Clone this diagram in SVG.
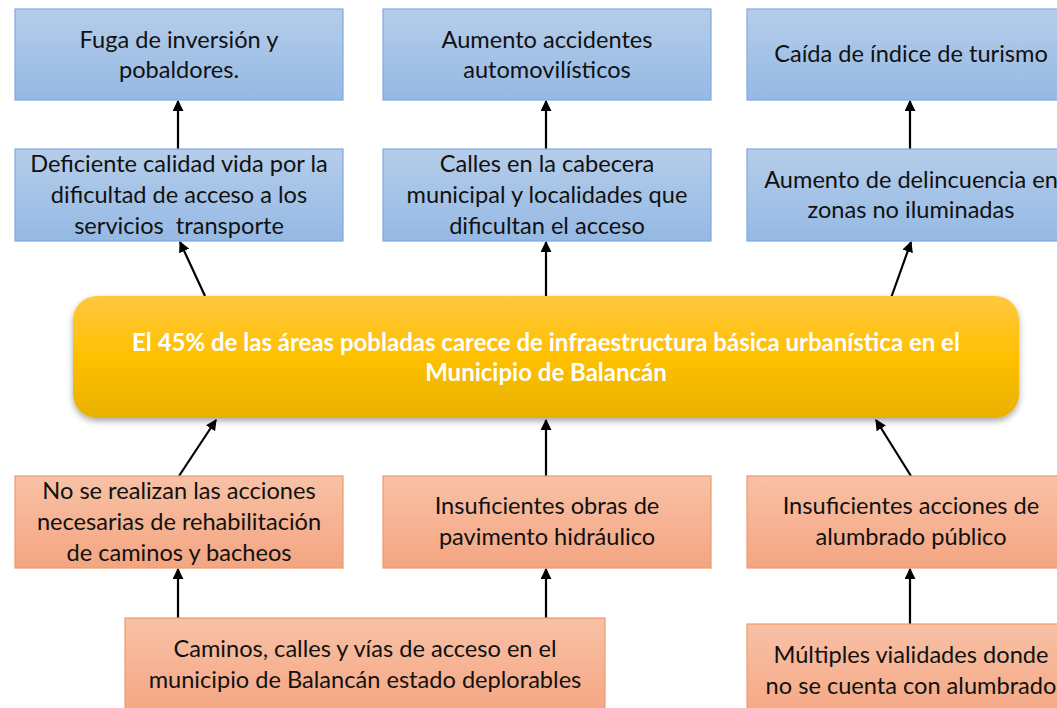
<svg xmlns="http://www.w3.org/2000/svg" width="1057" height="708" viewBox="0 0 1057 708">
<defs>
<linearGradient id="gBlue" x1="0" y1="0" x2="0" y2="1">
<stop offset="0" stop-color="#b5cdea"/>
<stop offset="1" stop-color="#95b9e4"/>
</linearGradient>
<linearGradient id="gOrange" x1="0" y1="0" x2="0" y2="1">
<stop offset="0" stop-color="#f8c1a6"/>
<stop offset="1" stop-color="#f4a581"/>
</linearGradient>
<linearGradient id="gYellow" x1="0" y1="0" x2="0" y2="1">
<stop offset="0" stop-color="#ffc840"/>
<stop offset="0.5" stop-color="#ffc000"/>
<stop offset="1" stop-color="#e8b000"/>
</linearGradient>
<filter id="shadow" x="-5%" y="-20%" width="110%" height="140%">
<feDropShadow dx="0" dy="3" stdDeviation="3" flood-color="#000" flood-opacity="0.35"/>
</filter>
<marker id="arr" viewBox="0 0 10 10" refX="9" refY="5" markerWidth="5" markerHeight="5" orient="auto" markerUnits="strokeWidth">
<path d="M0,0 L10,5 L0,10 z" fill="#000"/>
</marker>
</defs>
<style>
.blue{fill:url(#gBlue);stroke:#7fa9dd;stroke-width:1.2}
.orange{fill:url(#gOrange);stroke:#ee9a6a;stroke-width:1.2}
.t{font-family:Lato,"Liberation Sans",sans-serif;font-size:23.6px;fill:#111;text-anchor:middle;white-space:pre}
.c{font-family:Lato,"Liberation Sans",sans-serif;font-size:24px;font-weight:bold;fill:#fff;text-anchor:middle}
.ln{stroke:#000;stroke-width:2.2;fill:none;marker-end:url(#arr)}
</style>
<rect width="1057" height="708" fill="#fff"/>

<g id="connectors">
<line class="ln" x1="178" y1="149" x2="178" y2="101"/>
<line class="ln" x1="546" y1="149" x2="546" y2="101"/>
<line class="ln" x1="910" y1="149" x2="910" y2="101"/>
<line class="ln" x1="205" y1="296" x2="180" y2="242"/>
<line class="ln" x1="546" y1="296" x2="546" y2="242"/>
<line class="ln" x1="891" y1="298" x2="911" y2="242"/>
<line class="ln" x1="179" y1="476" x2="216" y2="420"/>
<line class="ln" x1="546" y1="476" x2="546" y2="420"/>
<line class="ln" x1="911" y1="476" x2="876" y2="420"/>
<line class="ln" x1="178" y1="618" x2="178" y2="569"/>
<line class="ln" x1="546" y1="618" x2="546" y2="569"/>
<line class="ln" x1="910" y1="624" x2="910" y2="569"/>
</g>

<g id="n1"><rect class="blue" x="15" y="9" width="328" height="91"/>
<text class="t" x="179" y="48">Fuga de inversión y</text><text class="t" x="179" y="78">pobaldores.</text></g>
<g id="n2"><rect class="blue" x="383" y="9" width="328" height="91"/>
<text class="t" x="547" y="48">Aumento accidentes</text><text class="t" x="547" y="78">automovilísticos</text></g>
<g id="n3"><rect class="blue" x="747" y="9" width="328" height="91"/>
<text class="t" x="911" y="62">Caída de índice de turismo</text></g>

<g id="n4"><rect class="blue" x="15" y="149" width="328" height="92"/>
<text class="t" x="179" y="172">Deficiente calidad vida por la</text><text class="t" x="179" y="203">dificultad de acceso a los</text><text class="t" x="179" y="234" xml:space="preserve">servicios  transporte</text></g>
<g id="n5"><rect class="blue" x="383" y="149" width="328" height="92"/>
<text class="t" x="547" y="172">Calles en la cabecera</text><text class="t" x="547" y="203">municipal y localidades que</text><text class="t" x="547" y="234">dificultan el acceso</text></g>
<g id="n6"><rect class="blue" x="747" y="149" width="328" height="92"/>
<text class="t" x="911" y="188">Aumento de delincuencia en</text><text class="t" x="911" y="218">zonas no iluminadas</text></g>

<g id="center"><rect x="73" y="296" width="946" height="122" rx="24" fill="url(#gYellow)" filter="url(#shadow)"/>
<text class="c" x="546" y="351">El 45% de las áreas pobladas carece de infraestructura básica urbanística en el</text>
<text class="c" x="546" y="381">Municipio de Balancán</text></g>

<g id="n7"><rect class="orange" x="15" y="476" width="328" height="92"/>
<text class="t" x="179" y="499">No se realizan las acciones</text><text class="t" x="179" y="530">necesarias de rehabilitación</text><text class="t" x="179" y="561">de caminos y bacheos</text></g>
<g id="n8"><rect class="orange" x="383" y="476" width="328" height="92"/>
<text class="t" x="547" y="514">Insuficientes obras de</text><text class="t" x="547" y="545">pavimento hidráulico</text></g>
<g id="n9"><rect class="orange" x="747" y="476" width="328" height="92"/>
<text class="t" x="911" y="514">Insuficientes acciones de</text><text class="t" x="911" y="545">alumbrado público</text></g>

<g id="n10"><rect class="orange" x="125" y="618" width="480" height="100"/>
<text class="t" x="365" y="657">Caminos, calles y vías de acceso en el</text><text class="t" x="365" y="688">municipio de Balancán estado deplorables</text></g>
<g id="n11"><rect class="orange" x="747" y="624" width="328" height="100"/>
<text class="t" x="911" y="663">Múltiples vialidades donde</text><text class="t" x="911" y="694">no se cuenta con alumbrado</text></g>
</svg>
